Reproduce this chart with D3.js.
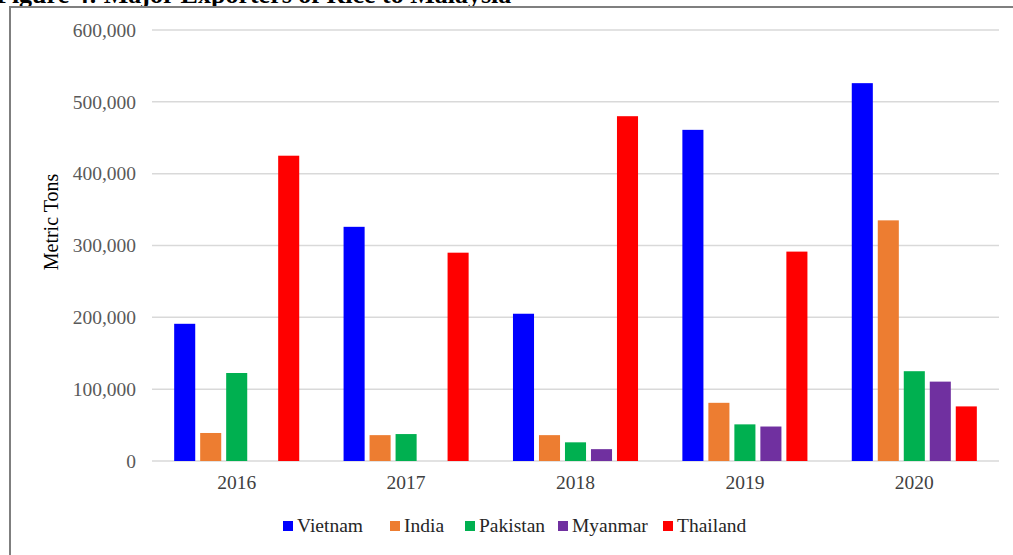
<!DOCTYPE html>
<html><head><meta charset="utf-8">
<script src="https://cdn.jsdelivr.net/npm/d3@7"></script>
<style>body{margin:0;background:#fff}svg{display:block}</style>
</head><body>
<svg id="c" width="1013" height="555"></svg>
<script>
const years = ["2016","2017","2018","2019","2020"];
const countries = ["Vietnam","India","Pakistan","Myanmar","Thailand"];
const colors = ["#0000ff","#ed7d31","#00b050","#7030a0","#ff0000"];
const vietnam  = [191000, 326000, 205000, 461000, 526000];
const india    = [39000, 36000, 36000, 81000, 335000];
const pakistan = [122500, 37500, 26000, 51000, 125000];
const myanmar  = [0, 0, 16500, 48000, 110500];
const thailand = [425000, 290000, 480000, 291500, 76000];
const yTicks = [0,100000,200000,300000,400000,500000,600000];
const series = [vietnam, india, pakistan, myanmar, thailand];

const svg = d3.select("#c");
const serif = "'Liberation Serif','Times New Roman',serif";

// title (cut off at top, as in the source image)
svg.append("text").attr("x",-4).attr("y",3)
  .attr("font-family",serif).attr("font-weight","bold").attr("font-size",26)
  .attr("fill","#000").text("Figure 4: Major Exporters of Rice to Malaysia");

// frame
svg.append("rect").attr("x",10).attr("y",7).attr("width",1020).attr("height",560)
  .attr("fill","none").attr("stroke","#7f7f7f").attr("stroke-width",2);

const x0 = d3.scaleBand().domain(years).range([152,999]);
const x1 = d3.scaleBand().domain(countries).range([-65,65]).paddingInner(0.19).paddingOuter(0.095);
const y = d3.scaleLinear().domain([0,600000]).range([461,30]);

// gridlines
svg.append("g").selectAll("line").data(yTicks).join("line")
  .attr("x1",152).attr("x2",999).attr("y1",d=>y(d)).attr("y2",d=>y(d))
  .attr("stroke","#d9d9d9").attr("stroke-width",1.5);

// y axis labels
const yAxis = d3.axisLeft(y).tickValues(yTicks).tickSize(0).tickPadding(0)
  .tickFormat(d3.format(","));
const yg = svg.append("g").attr("transform","translate(136,0)").call(yAxis);
yg.select(".domain").remove();
yg.selectAll("text").attr("font-family",serif).attr("font-size",19.5).attr("fill","#595959");

// bars
const groups = svg.append("g").selectAll("g").data(years).join("g")
  .attr("transform",d=>`translate(${x0(d)+x0.bandwidth()/2},0)`);
groups.selectAll("rect").data((yr,i)=>countries.map((c,j)=>({c,j,v:series[j][i]})))
  .join("rect")
  .attr("x",d=>x1(d.c)).attr("width",x1.bandwidth())
  .attr("y",d=>y(d.v)).attr("height",d=>y(0)-y(d.v))
  .attr("fill",d=>colors[d.j]);

// x axis labels
const xAxis = d3.axisBottom(x0).tickSize(0).tickPadding(0);
const xg = svg.append("g").attr("transform","translate(0,475)").call(xAxis);
xg.select(".domain").remove();
xg.selectAll("text").attr("font-family",serif).attr("font-size",19.5).attr("fill","#404040").attr("dy","0.71em");

// y title
svg.append("text").attr("transform","translate(58,222) rotate(-90)")
  .attr("text-anchor","middle").attr("font-family",serif).attr("font-size",20)
  .attr("fill","#000").text("Metric Tons");

// legend
const legX = [283,390,465,558,663];
const lg = svg.append("g").selectAll("g").data(countries).join("g")
  .attr("transform",(d,i)=>`translate(${legX[i]},521)`);
lg.append("rect").attr("width",10).attr("height",10).attr("fill",(d,i)=>colors[i]);
lg.append("text").attr("x",14).attr("y",11).attr("font-family",serif).attr("font-size",19.5)
  .attr("fill","#262626").text(d=>d);
</script>
</body></html>
